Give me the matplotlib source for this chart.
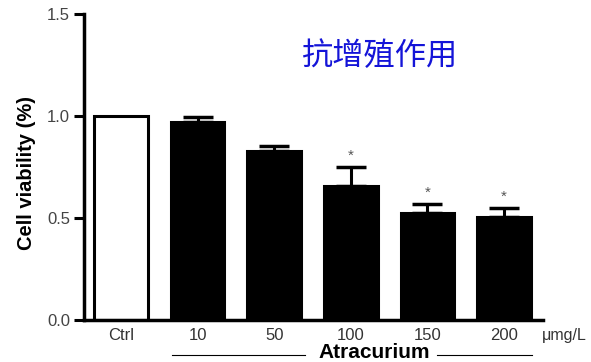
import numpy as np
import matplotlib
matplotlib.use("Agg")
import matplotlib.pyplot as plt

plt.rcParams['font.family'] = ['Liberation Sans', 'DejaVu Sans']

groups = ['Ctrl', '10', '50', '100', '150', '200']
viability = [1.0, 0.97, 0.828, 0.657, 0.524, 0.505]
err_up = [0.0, 0.025, 0.025, 0.093, 0.045, 0.044]
significant = [False, False, False, True, True, True]

fig = plt.figure(figsize=(5.91, 3.62), dpi=100)
ax = fig.add_axes([0.142, 0.116, 0.777, 0.845])

x = np.arange(len(groups))
colors = ['white'] + ['black'] * (len(groups) - 1)
ax.bar(x, viability, width=0.70, color=colors, edgecolor='black', linewidth=2.2, zorder=2)
ax.errorbar(x[1:], viability[1:], yerr=[np.zeros(len(groups) - 1), err_up[1:]],
            fmt='none', ecolor='black', elinewidth=2.2, capsize=10.5, capthick=2.5, zorder=1)

for xi, v, e, s in zip(x, viability, err_up, significant):
    if s:
        ax.text(xi, v + e + 0.02, '*', ha='center', va='bottom', fontsize=11, color='#555555')

ax.set_xlim(-0.483, 5.51)
ax.set_ylim(0, 1.5)
ax.set_yticks([0.0, 0.5, 1.0, 1.5])
ax.set_yticklabels(['0.0', '0.5', '1.0', '1.5'])
ax.set_xticks(x)
ax.set_xticklabels(groups)
ax.tick_params(axis='x', length=0, pad=6, labelsize=12, labelcolor='#333333')
ax.tick_params(axis='y', length=7, width=2.2, labelsize=12, labelcolor='#444444', pad=3)

for side in ['top', 'right']:
    ax.spines[side].set_visible(False)
for side in ['left', 'bottom']:
    ax.spines[side].set_linewidth(2.5)

ax.set_ylabel('Cell viability (%)', fontsize=14.5, fontweight='bold')
ax.yaxis.set_label_coords(-0.105, 0.48)

ax.text(5.50, -0.075, 'μmg/L', ha='left', va='center', fontsize=11.5, color='#333333',
        clip_on=False)

# Atracurium group label with lines
ax.text(3.30, -0.184, 'Atracurium', ha='center', va='baseline', fontsize=15,
        fontweight='bold', clip_on=False)
ax.plot([0.67, 2.40], [-0.172, -0.172], color='black', linewidth=0.8, clip_on=False)
ax.plot([4.13, 5.37], [-0.172, -0.172], color='black', linewidth=0.8, clip_on=False)

fig.text(0.641, 0.845, '抗增殖作用', ha='center', va='center', fontsize=22.5,
         color='#1414d8', family=['Noto Sans CJK SC', 'DejaVu Sans'])

fig.savefig('out.png', dpi=100)
